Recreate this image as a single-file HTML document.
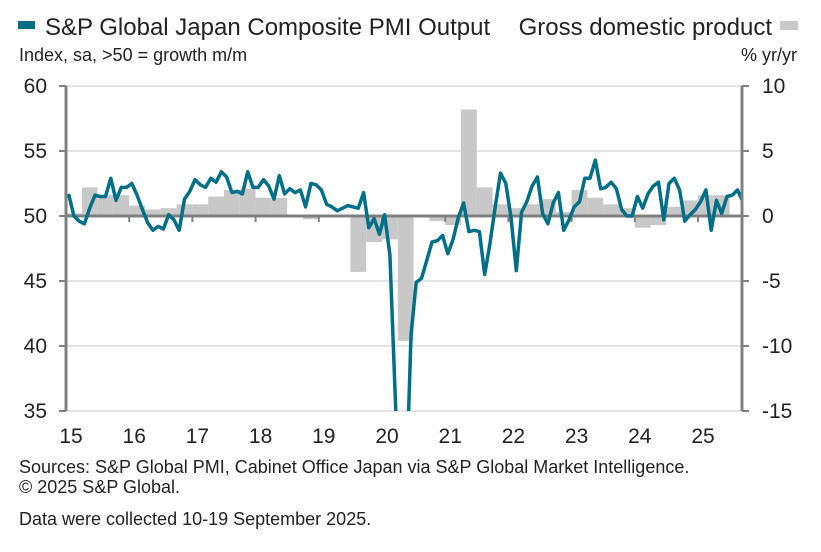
<!DOCTYPE html>
<html><head><meta charset="utf-8"><style>
body{margin:0;background:#fff;font-family:"Liberation Sans",sans-serif;}
#wrap{position:relative;width:821px;height:552px;overflow:hidden;}
.t{position:absolute;white-space:nowrap;color:#222;line-height:1;}
</style></head><body>
<div id="wrap">
<div style="position:absolute;left:18px;top:21px;width:17px;height:8px;background:#006f87"></div>
<div class="t" style="left:45px;top:16px;font-size:24px;">S&amp;P Global Japan Composite PMI Output</div>
<div class="t" style="right:49px;top:16px;font-size:24px;">Gross domestic product</div>
<div style="position:absolute;left:780px;top:21px;width:18px;height:9px;background:#c8c8c8"></div>
<div class="t" style="left:19px;top:46px;font-size:18px;">Index, sa, &gt;50 = growth m/m</div>
<div class="t" style="right:24px;top:46px;font-size:18px;">% yr/yr</div>
<svg id="chart" width="821" height="552" style="position:absolute;left:0;top:0"></svg>
<div class="t" style="left:19px;top:458px;font-size:18px;">Sources: S&amp;P Global PMI, Cabinet Office Japan via S&amp;P Global Market Intelligence.</div>
<div class="t" style="left:19px;top:478px;font-size:18px;">© 2025 S&amp;P Global.</div>
<div class="t" style="left:19px;top:510px;font-size:18px;">Data were collected 10-19 September 2025.</div>
</div>
<script>
const years = ["15","16","17","18","19","20","21","22","23","24","25"];
const leftTicks = [60,55,50,45,40,35];
const rightTicks = [10,5,0,-5,-10,-15];
const pmi = [51.7,50.0,49.6,49.4,50.6,51.6,51.5,51.5,52.9,51.2,52.2,52.2,
52.5,51.6,50.5,49.5,48.9,49.2,49.0,50.1,49.7,48.9,51.3,51.9,
52.8,52.4,52.2,52.9,52.6,53.4,53.0,51.8,51.9,51.7,53.4,52.2,
52.2,52.8,52.3,51.3,53.1,51.7,52.1,51.8,52.0,50.7,52.5,52.4,
52.0,50.9,50.7,50.4,50.6,50.8,50.7,50.6,51.8,
49.1,49.8,48.6,
50.1,47.0,36.2,25.8,27.8,40.8,44.9,45.2,46.6,48.0,48.1,48.5,
47.1,48.2,49.9,51.0,48.8,48.9,48.8,45.5,47.9,50.7,53.3,52.5,
49.9,45.8,50.3,51.1,52.3,53.0,50.2,49.4,51.0,51.8,48.9,49.7,
50.7,51.1,52.9,52.9,54.3,52.1,52.2,52.6,52.1,50.5,50.0,50.0,
51.5,50.6,51.7,52.3,52.6,49.7,52.5,52.9,52.0,49.6,50.1,50.5,
51.1,52.0,48.9,51.2,50.2,51.5,51.6,52.0,51.1];
const gdp = [0.2,2.2,1.6,1.6, 0.8,0.5,0.6,0.9, 0.9,1.5,2.0,2.1, 1.4,1.4,0.0,-0.25,
0.1,0.1,-4.3,-2.0, -1.8,-9.6,0.0,-0.4, -0.7,8.2,2.2,0.9, 0.6,0.9,1.3,0.3,
2.0,1.4,0.9,0.6, -0.9,-0.7,0.7,1.2, 1.6,1.6];

const svg=document.getElementById('chart');
const NS='http://www.w3.org/2000/svg';
const X0=66,X1=742,YT=86,YB=411,PY=63.2;
const xm=m=>X0+m/12*PY;
const yl=v=>YT+(60-v)/25*(YB-YT);
const yr=v=>YT+(10-v)/25*(YB-YT);
function mk(t,a,p){const e=document.createElementNS(NS,t);for(const k in a)e.setAttribute(k,a[k]);(p||svg).appendChild(e);return e;}
const defs=mk('defs',{});const cp=mk('clipPath',{id:'clip'},defs);mk('rect',{x:X0,y:YT,width:X1-X0,height:YB-YT},cp);
leftTicks.forEach(v=>{if(v!==50){const g=mk('line',{x1:X0,x2:X1,y1:yl(v),y2:yl(v),stroke:'#c8c8c8','stroke-width':1});

}});
gdp.forEach((v,i)=>{const x=xm(i*3),w=xm(i*3+3)-x;const y0=yr(0),y1=yr(v);
const r=mk('rect',{x:x,y:Math.min(y0,y1),width:w,height:Math.abs(y1-y0),fill:'#c8c8c8'});

});
const z=mk('line',{x1:X0,x2:X1,y1:yl(50),y2:yl(50),stroke:'#808080','stroke-width':3});


years.forEach((y,i)=>{if(i>0){const t=mk('line',{x1:xm(i*12),x2:xm(i*12),y1:yl(50),y2:yl(50)+6,stroke:'#808080','stroke-width':2});

}
const tx=mk('text',{x:xm(i*12)+5,y:443,'font-size':21,'text-anchor':'middle',fill:'#222'});tx.textContent=y;

});
const pts=pmi.map((v,i)=>xm(i+0.5).toFixed(1)+','+yl(v).toFixed(1)).join(' ');
const pl=mk('polyline',{points:pts,fill:'none',stroke:'#006f87','stroke-width':3.5,'stroke-linejoin':'round','clip-path':'url(#clip)'});


const la=mk('line',{x1:X0,x2:X0,y1:YT,y2:YB,stroke:'#808080','stroke-width':3});


const ra=mk('line',{x1:X1,x2:X1,y1:YT,y2:YB,stroke:'#808080','stroke-width':3});


leftTicks.forEach(v=>{mk('line',{x1:X0-7,x2:X0,y1:yl(v),y2:yl(v),stroke:'#808080','stroke-width':2});
const t=mk('text',{x:47,y:yl(v)+7,'font-size':21,'text-anchor':'end',fill:'#222'});t.textContent=v;

});
rightTicks.forEach(v=>{mk('line',{x1:X1,x2:X1+7,y1:yr(v),y2:yr(v),stroke:'#808080','stroke-width':2});
const t=mk('text',{x:762,y:yr(v)+7,'font-size':21,'text-anchor':'start',fill:'#222'});t.textContent=v;

});
</script>
</body></html>
